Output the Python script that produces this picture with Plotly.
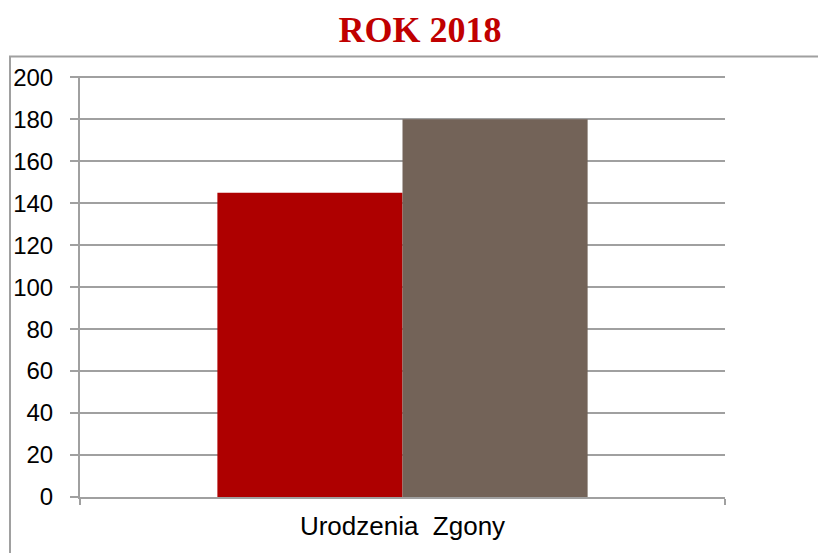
import plotly.graph_objects as go

categories = ["Urodzenia\u00a0 Zgony"]
series_names = ["Urodzenia", "Zgony"]
urodzenia = [145]
zgony = [180]
y_ticks = [0, 20, 40, 60, 80, 100, 120, 140, 160, 180, 200]

fig = go.Figure()
fig.add_trace(go.Bar(x=categories, y=urodzenia, name=series_names[0],
                     marker=dict(color="#AE0000", line=dict(width=0))))
fig.add_trace(go.Bar(x=categories, y=zgony, name=series_names[1],
                     marker=dict(color="#736358", line=dict(width=0))))

W, H = 818, 553
L, R, T, B = 80, 93, 76, 46
pw = W - L - R
ph = H - T - B

fig.update_layout(
    width=W, height=H,
    margin=dict(l=L, r=R, t=T, b=B, pad=0),
    paper_bgcolor="white", plot_bgcolor="white",
    barmode="group", bargap=0.426, bargroupgap=0,
    showlegend=False,
    title=dict(text="<b>ROK 2018</b>", x=420 / W, xanchor="center",
               xref="container", y=1 - 29 / H, yref="container", yanchor="middle",
               font=dict(family="Liberation Serif", size=36, color="#C00000")),
    font=dict(family="Liberation Sans, Arial", color="black"),
    xaxis=dict(showline=True, linecolor="#A0A0A0", linewidth=2,
               ticks="outside", tickson="boundaries", ticklen=6, tickcolor="#A0A0A0",
               tickwidth=2, showgrid=False, tickfont=dict(size=26),
               ticklabelstandoff=5),
    yaxis=dict(range=[0, 200.6], tickvals=y_ticks, showgrid=True,
               gridcolor="#A0A0A0", gridwidth=2, zeroline=False,
               showline=True, linecolor="#A0A0A0", linewidth=2,
               ticks="outside", ticklen=8, tickcolor="#A0A0A0", tickwidth=2,
               tickfont=dict(size=24), ticklabelstandoff=12),
    shapes=[dict(type="rect", xref="paper", yref="paper",
                 x0=(10 - L) / pw, x1=(W + 40 - L) / pw,
                 y0=-(B + 40) / ph, y1=(H - B - 56) / ph,
                 line=dict(color="#A0A0A0", width=2), fillcolor="rgba(0,0,0,0)",
                 layer="below")],
)

fig.write_html("out.html", config={"displayModeBar": False},
               post_script="document.body.style.margin='0';document.body.style.overflow='hidden';")
